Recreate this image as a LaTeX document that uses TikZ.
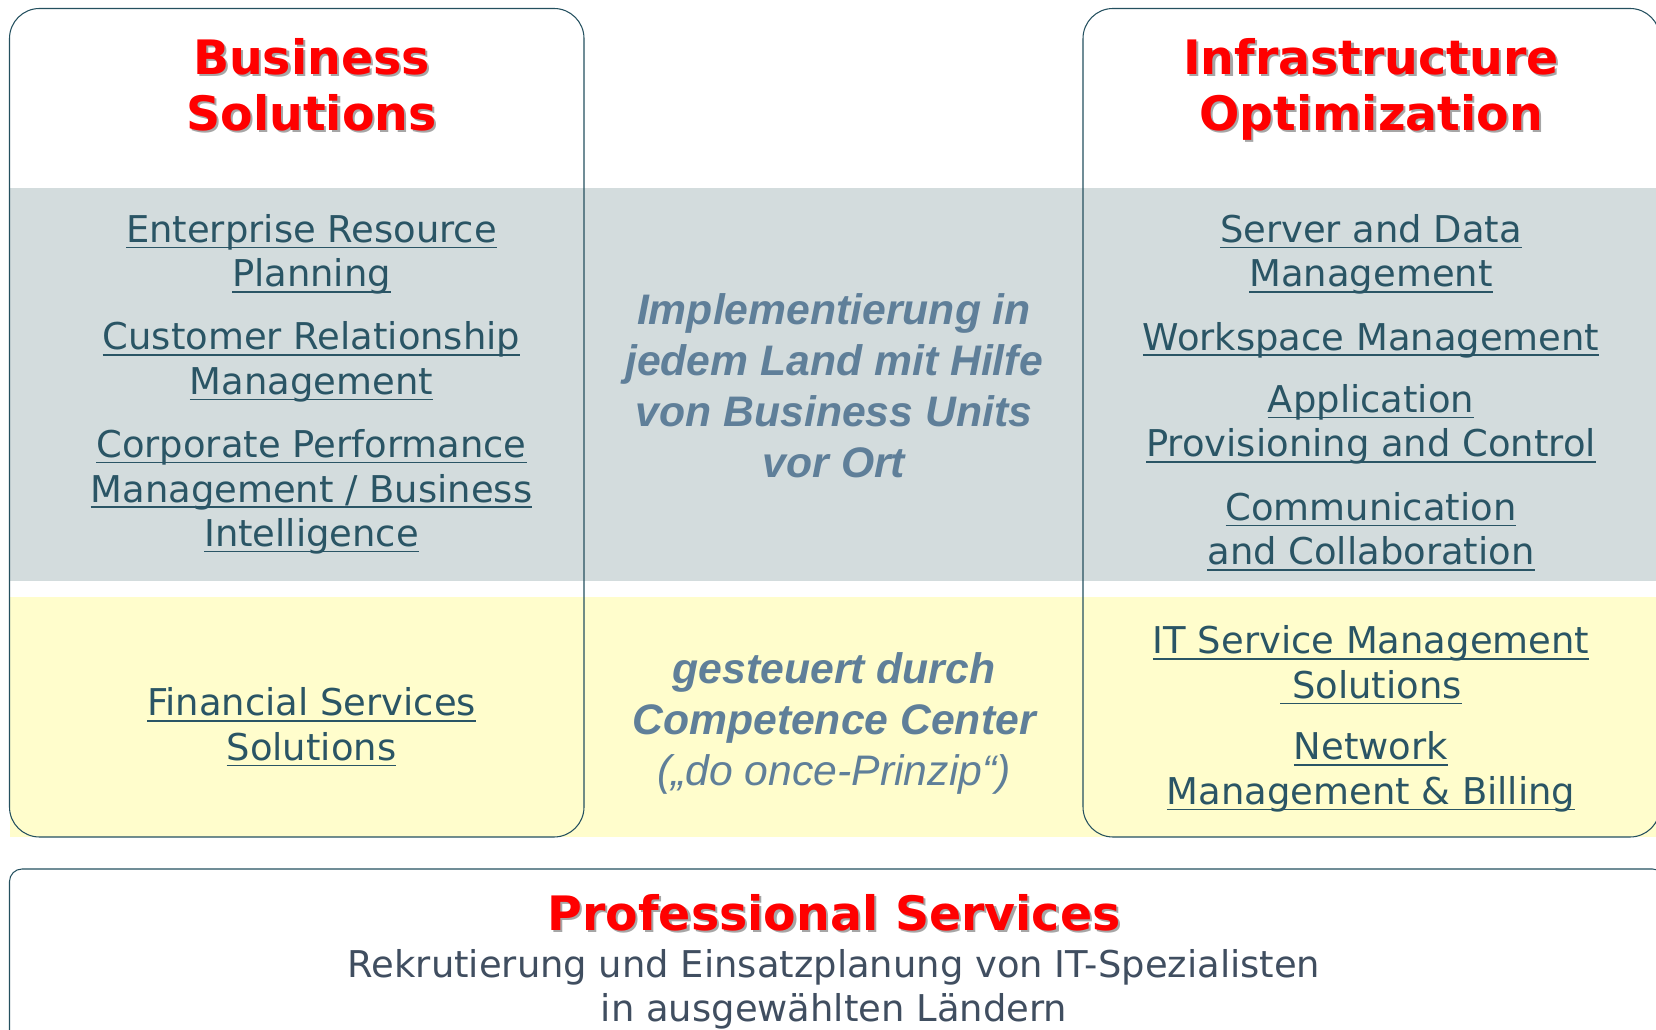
\documentclass[tikz,border=0pt]{standalone}
\usepackage{fontspec}
\setmainfont{DejaVu Sans}
\newfontfamily\arialfont{Liberation Sans}
\usetikzlibrary{positioning}

\definecolor{linkteal}{HTML}{2A5565}
\definecolor{framecol}{HTML}{24505F}
\definecolor{bandgray}{HTML}{D3DCDD}
\definecolor{bandyellow}{HTML}{FFFDCC}
\definecolor{midblue}{HTML}{5F7F99}
\definecolor{subgray}{HTML}{404E60}
\definecolor{titlered}{HTML}{FF0000}

% underlined link text, one line
\newcommand{\linktext}[1]{\setbox0\hbox{#1}\rlap{\rule[-3.2pt]{\wd0}{0.8pt}}\box0}
% red title with grey drop shadow
\newcommand{\redtitle}[1]{\rlap{\kern1.3pt\raisebox{-1.3pt}{\color{black!35}#1}}#1}

\begin{document}
\begin{tikzpicture}
  \tikzset{
    colbox/.style={draw=framecol,line width=0.6pt,rounded corners=0.6cm,inner sep=0pt,outer sep=0pt},
    band/.style={draw=none,inner sep=0pt,outer sep=0pt,anchor=north west},
    titletext/.style={text=titlered,align=center,inner sep=0pt,font=\fontsize{27}{32}\selectfont\bfseries},
    linknode/.style={text=linkteal,align=center,inner sep=0pt,font=\fontsize{21}{25.3}\selectfont},
    midtext/.style={text=midblue,align=center,inner sep=0pt,font=\arialfont\fontsize{24.3}{29}\selectfont\bfseries\itshape}
  }
  \useasboundingbox (0,0) rectangle (33.12,20.58);

%%%%%%%%%%%%%%%%%%%%%%%%%%
% bands
  \node[band,fill=bandgray,minimum width=32.93cm,minimum height=7.86cm] at (0.19,16.82) (BandGray) {};
  \node[band,fill=bandyellow,minimum width=32.93cm,minimum height=4.80cm] at (0.19,8.64) (BandYellow) {};

%%%%%%%%%%%%%%%%%%%%%%%%%%
% columns
  \node[colbox,minimum width=11.49cm,minimum height=16.57cm] at (5.935,12.125) (ColBusiness) {};
  \node[colbox,minimum width=11.54cm,minimum height=16.57cm] at (27.43,12.125) (ColInfra) {};
  \node[colbox,rounded corners=0.25cm,minimum width=33.11cm,minimum height=3.7cm] at (16.745,1.35) (ColProf) {};

%TOP
  \node[titletext] (TBusiness) at (6.23,18.86) {\redtitle{Business}\\\redtitle{Solutions}};
  \node[titletext] (TInfra) at (27.42,18.775) {\redtitle{Infrastructure}\\\redtitle{Optimization}};

%LEFT
  \node[linknode] (NErp) at (6.23,15.49) {\linktext{Enterprise Resource}\\\linktext{Planning}};
  \node[linknode] (NCrm) at (6.23,13.34) {\linktext{Customer Relationship}\\\linktext{Management}};
  \node[linknode] (NCpm) at (6.23,10.74) {\linktext{Corporate Performance}\\\linktext{Management / Business}\\\linktext{Intelligence}};
  \node[linknode] (NFinance) at (6.23,6.04) {\linktext{Financial Services}\\\linktext{Solutions}};

%MIDDLE
  \node[midtext] (NImpl) at (16.68,12.86) {Implementierung in\\jedem Land mit Hilfe\\von Business Units\\vor Ort};
  \node[midtext] (NSteuer) at (16.68,6.12) {gesteuert durch\\Competence Center\\{\mdseries(„do once-Prinzip“)}};

%RIGHT
  \node[linknode] (NServer) at (27.42,15.49) {\linktext{Server and Data}\\\linktext{Management}};
  \node[linknode] (NWorkspace) at (27.42,13.78) {\linktext{Workspace Management}};
  \node[linknode] (NApp) at (27.42,12.09) {\linktext{Application}\\\linktext{Provisioning and Control}};
  \node[linknode] (NComm) at (27.42,9.95) {\linktext{Communication}\\\linktext{and Collaboration}};
  \node[linknode] (NItsm) at (27.42,7.28) {\linktext{IT Service Management}\\\linktext{\ Solutions}};
  \node[linknode] (NNetwork) at (27.42,5.14) {\linktext{Network}\\\linktext{Management \& Billing}};

%BOTTOM
  \node[titletext] (TProf) at (16.68,2.30) {\redtitle{Professional Services}};
  \node[linknode,text=subgray] (NRecruit) at (16.68,0.79) {Rekrutierung und Einsatzplanung von IT-Spezialisten\\in ausgewählten Ländern};

\end{tikzpicture}
\end{document}
